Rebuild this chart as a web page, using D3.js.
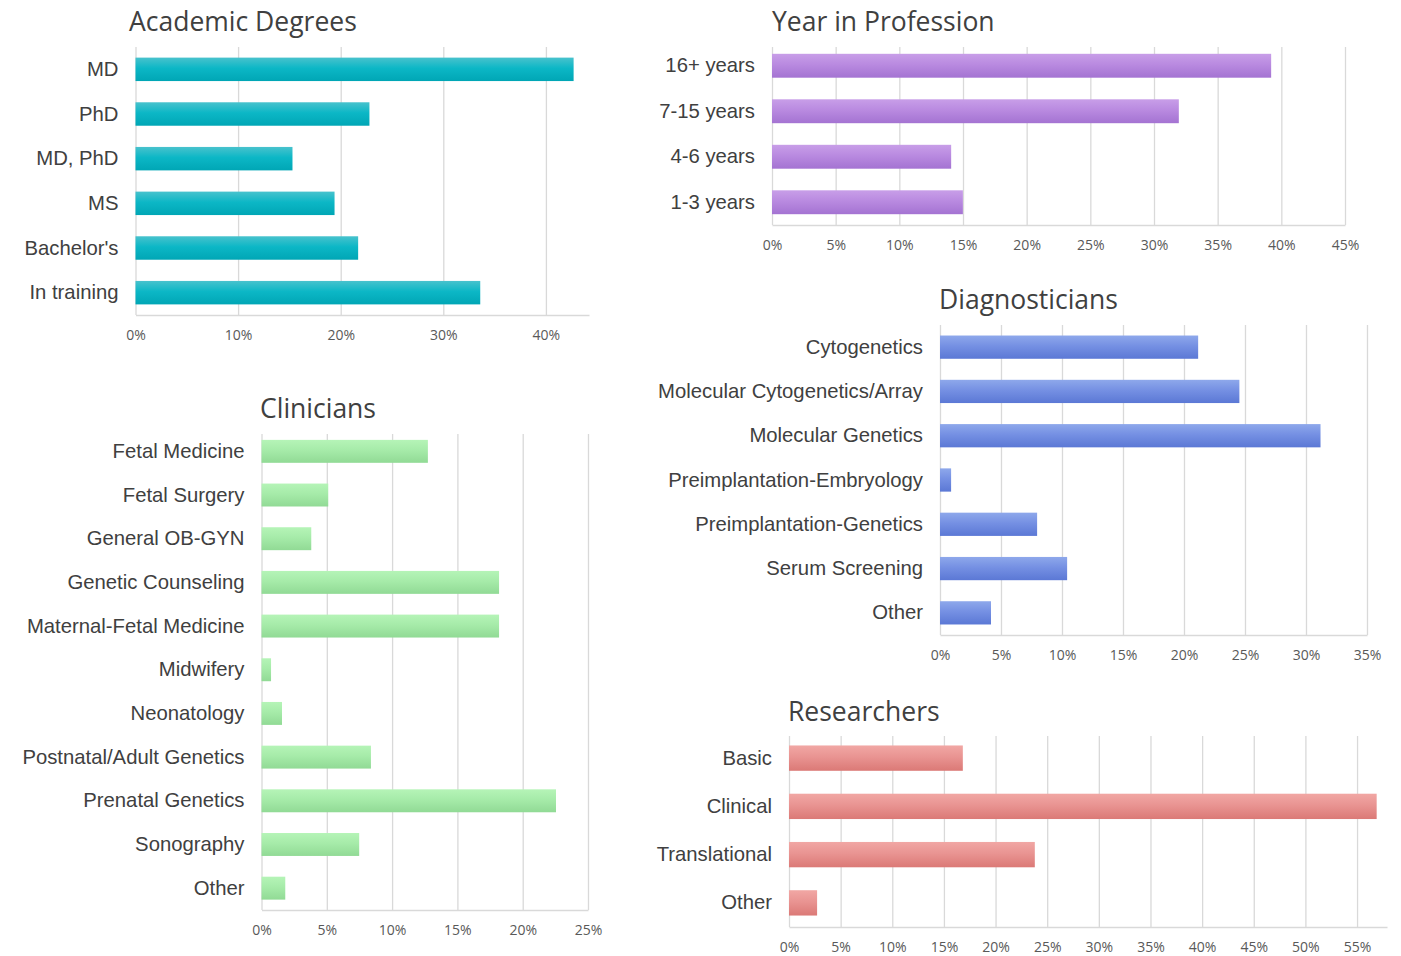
<!DOCTYPE html>
<html>
<head>
<meta charset="utf-8">
<script src="https://cdn.jsdelivr.net/npm/d3@7"></script>
<style>
    body { margin: 0; background: #fff; }
    .title { font-family: "Open Sans", sans-serif; font-size: 26.5px; fill: #404040; }
    .cat-axis text { font-family: "Liberation Sans", Arial, sans-serif; font-size: 20.3px; fill: #404040; }
    .x-axis text { font-family: "Open Sans", sans-serif; font-size: 14px; fill: #595959; }
    .x-axis line, .x-axis path { stroke: #d9d9d9; stroke-width: 1.3; }
</style>
</head>
<body>
<svg id="chart" width="1401" height="956"></svg>
<script>
// ─── DATA ───
const degreeCategories = ["MD", "PhD", "MD, PhD", "MS", "Bachelor's", "In training"];
const degreeValues = [0.427, 0.228, 0.153, 0.194, 0.217, 0.336];
const degreeTicks = [0, 0.1, 0.2, 0.3, 0.4];

const yearCategories = ["16+ years", "7-15 years", "4-6 years", "1-3 years"];
const yearValues = [0.392, 0.3195, 0.1407, 0.1499];
const yearTicks = [0, 0.05, 0.1, 0.15, 0.2, 0.25, 0.3, 0.35, 0.4, 0.45];

const clinicianCategories = ["Fetal Medicine", "Fetal Surgery", "General OB-GYN", "Genetic Counseling",
    "Maternal-Fetal Medicine", "Midwifery", "Neonatology", "Postnatal/Adult Genetics",
    "Prenatal Genetics", "Sonography", "Other"];
const clinicianValues = [0.1274, 0.0511, 0.0381, 0.1819, 0.1819, 0.0073, 0.0157, 0.0838, 0.2255, 0.0748, 0.0182];
const clinicianTicks = [0, 0.05, 0.1, 0.15, 0.2, 0.25];

const diagCategories = ["Cytogenetics", "Molecular Cytogenetics/Array", "Molecular Genetics",
    "Preimplantation-Embryology", "Preimplantation-Genetics", "Serum Screening", "Other"];
const diagValues = [0.2116, 0.2454, 0.3119, 0.0091, 0.0796, 0.1042, 0.0418];
const diagTicks = [0, 0.05, 0.1, 0.15, 0.2, 0.25, 0.3, 0.35];

const researchCategories = ["Basic", "Clinical", "Translational", "Other"];
const researchValues = [0.1683, 0.569, 0.238, 0.0272];
const researchTicks = [0, 0.05, 0.1, 0.15, 0.2, 0.25, 0.3, 0.35, 0.4, 0.45, 0.5, 0.55];

// gradient stops (top, middle, bottom) per panel
const GRADIENTS = {
    teal:   ["#48c2cd", "#0cb7c6", "#00a6b5"],
    purple: ["#c89ee8", "#b98ae0", "#a473d2"],
    green:  ["#b5f4b7", "#a6eba9", "#91da95"],
    blue:   ["#8ea8eb", "#7590e3", "#5b78d5"],
    red:    ["#f1a7a4", "#e99492", "#db7976"]
};

// ─── LAYOUT ───
const panels = [
    { title: "Academic Degrees", cats: degreeCategories, vals: degreeValues, ticks: degreeTicks, grad: "teal",
      x0: 135.5, x1: 589, max: 0.442, yTop: 47, yBottom: 315, gridTop: 47, titleX: 129, titleY: 31 },
    { title: "Year in Profession", cats: yearCategories, vals: yearValues, ticks: yearTicks, grad: "purple",
      x0: 772, x1: 1345, max: 0.45, yTop: 43, yBottom: 225, gridTop: 47, titleX: 772, titleY: 31 },
    { title: "Clinicians", cats: clinicianCategories, vals: clinicianValues, ticks: clinicianTicks, grad: "green",
      x0: 261.5, x1: 588, max: 0.25, yTop: 429.5, yBottom: 910, gridTop: 434, titleX: 260, titleY: 418 },
    { title: "Diagnosticians", cats: diagCategories, vals: diagValues, ticks: diagTicks, grad: "blue",
      x0: 940, x1: 1367, max: 0.35, yTop: 325, yBottom: 635, gridTop: 325, titleX: 939, titleY: 309 },
    { title: "Researchers", cats: researchCategories, vals: researchValues, ticks: researchTicks, grad: "red",
      x0: 789, x1: 1387, max: 0.579, yTop: 734, yBottom: 927, gridTop: 736, titleX: 788, titleY: 721 }
];

const svg = d3.select("#chart");
const defs = svg.append("defs");

Object.entries(GRADIENTS).forEach(([name, stops]) => {
    const g = defs.append("linearGradient")
        .attr("id", `grad-${name}`)
        .attr("x1", 0).attr("y1", 0).attr("x2", 0).attr("y2", 1);
    [0, 0.45, 1].forEach((off, i) => {
        g.append("stop").attr("offset", off).attr("stop-color", stops[i]);
    });
});

const pct = d3.format(".0%");

panels.forEach(p => {
    const g = svg.append("g");

    const x = d3.scaleLinear().domain([0, p.max]).range([p.x0, p.x1]);
    const y = d3.scaleBand().domain(p.cats).range([p.yTop, p.yBottom])
        .paddingInner(0.475).paddingOuter(0.2375);

    // x axis with gridlines
    g.append("g")
        .attr("class", "x-axis")
        .attr("transform", `translate(0, ${p.yBottom})`)
        .call(d3.axisBottom(x)
            .tickValues(p.ticks)
            .tickFormat(pct)
            .tickSize(-(p.yBottom - p.gridTop))
            .tickSizeOuter(0)
            .tickPadding(15));

    // bars
    g.selectAll("rect.bar")
        .data(p.cats.map((c, i) => ({ cat: c, val: p.vals[i] })))
        .join("rect")
        .attr("class", "bar")
        .attr("x", x(0))
        .attr("y", d => y(d.cat))
        .attr("width", d => x(d.val) - x(0))
        .attr("height", y.bandwidth())
        .attr("fill", `url(#grad-${p.grad})`);

    // category labels
    g.append("g")
        .attr("class", "cat-axis")
        .attr("transform", `translate(${p.x0}, 0)`)
        .call(d3.axisLeft(y).tickSize(0).tickPadding(17))
        .call(s => s.select(".domain").remove());

    g.append("text")
        .attr("class", "title")
        .attr("x", p.titleX)
        .attr("y", p.titleY)
        .text(p.title);
});
</script>
</body>
</html>
